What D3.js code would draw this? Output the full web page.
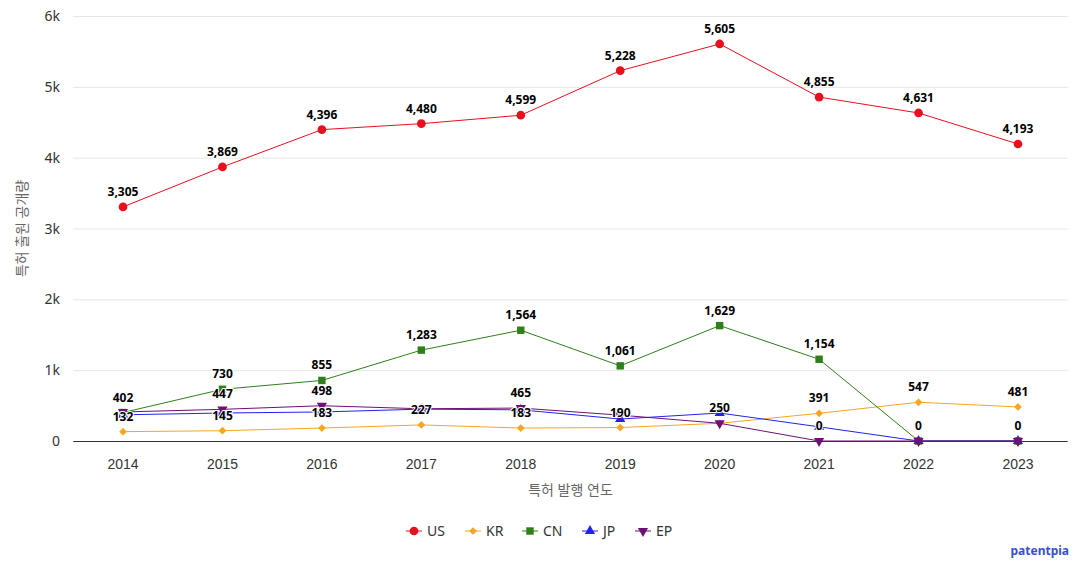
<!DOCTYPE html>
<html><head><meta charset="utf-8">
<script src="https://cdn.jsdelivr.net/npm/d3@7"></script>
<style>
body{margin:0;background:#fff;}
svg{font-family:"Noto Sans","Noto Sans CJK KR",sans-serif;}
</style></head>
<body><svg id="c" width="1079" height="569"></svg>
<script>
const years = ["2014","2015","2016","2017","2018","2019","2020","2021","2022","2023"];
const US = [3305,3869,4396,4480,4599,5228,5605,4855,4631,4193];
const KR = [132,145,183,227,183,190,250,391,547,481];
const CN = [402,730,855,1283,1564,1061,1629,1154,0,0];
const JP = [370,395,410,450,440,310,395,200,0,0];
const EP = [410,447,498,455,465,365,250,0,0,0];
const yTicks = [0,1000,2000,3000,4000,5000,6000];
const yTickLabels = ["0","1k","2k","3k","4k","5k","6k"];
// indices of data labels hidden because of overlap
const hiddenLabels = {US:[],KR:[],CN:[8,9],JP:[0,1,2,3,4,5,6,7,8,9],EP:[0,3,5,6]};

const series = [
  {name:"US", values:US, color:"#e8101e", symbol:d3.symbolCircle, size:60, rot:0},
  {name:"KR", values:KR, color:"#f5a623", symbol:d3.symbolSquare, size:30, rot:45},
  {name:"CN", values:CN, color:"#2f7f1a", symbol:d3.symbolSquare, size:55, rot:0},
  {name:"JP", values:JP, color:"#2222ee", symbol:d3.symbolTriangle, size:45, rot:0},
  {name:"EP", values:EP, color:"#6e1075", symbol:d3.symbolTriangle, size:45, rot:180}
];

const svg = d3.select("#c");
const L=73.3, R=1067.7, T=16, B=441;
const x = d3.scaleBand().domain(years).range([L,R]);
const y = d3.scaleLinear().domain([0,6000]).range([B,T]);

// grid
svg.append("g").selectAll("line").data(yTicks.slice(1)).join("line")
  .attr("x1",L).attr("x2",R).attr("y1",d=>y(d)+0.5).attr("y2",d=>y(d)+0.5)
  .attr("stroke","#e6e6e6");
// y labels
svg.append("g").selectAll("text").data(yTicks).join("text")
  .attr("x",60).attr("y",d=>y(d)+5).attr("text-anchor","end")
  .attr("font-size",14).attr("fill","#333").text((d,i)=>yTickLabels[i]);
// x axis
const xa = d3.axisBottom(x).tickSize(0).tickPadding(18);
const gx = svg.append("g").attr("transform",`translate(0,${B})`).call(xa);
gx.select(".domain").attr("stroke","#333").attr("d",`M${L},0.5H${R}`);
gx.selectAll("text").attr("font-size",14).attr("fill","#333").attr("font-family",null);

svg.append("text").attr("x",(L+R)/2).attr("y",495).attr("text-anchor","middle")
  .attr("font-size",14).attr("fill","#666").text("특허 발행 연도");
svg.append("text").attr("transform",`translate(27,${(T+B)/2}) rotate(-90)`)
  .attr("text-anchor","middle").attr("font-size",14).attr("fill","#666").text("특허 출원 공개량");

const symPath = s => d3.symbol(s.symbol,s.size)();
const cx = i=>x(years[i])+x.bandwidth()/2;
const line = d3.line().x((d,i)=>cx(i)).y(d=>y(d));

series.forEach(s=>{
  const g = svg.append("g");
  g.append("path").attr("d",line(s.values)).attr("fill","none").attr("stroke",s.color).attr("stroke-width",1);
  g.selectAll("path.m").data(s.values).join("path").attr("class","m")
    .attr("d",symPath(s)).attr("fill",s.color)
    .attr("transform",(d,i)=>`translate(${cx(i)},${y(d)}) rotate(${s.rot})`);
});
series.forEach(s=>{
  const hid = hiddenLabels[s.name];
  svg.append("g").selectAll("text").data(s.values.map((v,i)=>({v,i})).filter(d=>!hid.includes(d.i))).join("text")
    .attr("x",d=>cx(d.i)).attr("y",d=>y(d.v)-11).attr("text-anchor","middle")
    .attr("font-size",12).attr("font-weight","bold").attr("fill","#000")
    .attr("stroke","#fff").attr("stroke-width",2).attr("paint-order","stroke").attr("stroke-linejoin","round")
    .text(d=>d3.format(",")(d.v));
});

// legend
const lx=[406,465,522,582,635];
const lg = svg.append("g");
series.forEach((s,i)=>{
  const g = lg.append("g").attr("transform",`translate(${lx[i]},531)`);
  g.append("line").attr("x1",0).attr("x2",16).attr("stroke",s.color).attr("stroke-width",1);
  g.append("path").attr("d",symPath(s)).attr("fill",s.color)
    .attr("transform",`translate(8,0) rotate(${s.rot})`);
  g.append("text").attr("x",21).attr("y",5).attr("font-size",14).attr("fill","#333").text(s.name);
});
svg.append("text").attr("x",1069).attr("y",555).attr("text-anchor","end")
  .attr("font-size",12).attr("font-weight","bold").attr("fill","#3a4fd0").text("patentpia");
</script></body></html>
